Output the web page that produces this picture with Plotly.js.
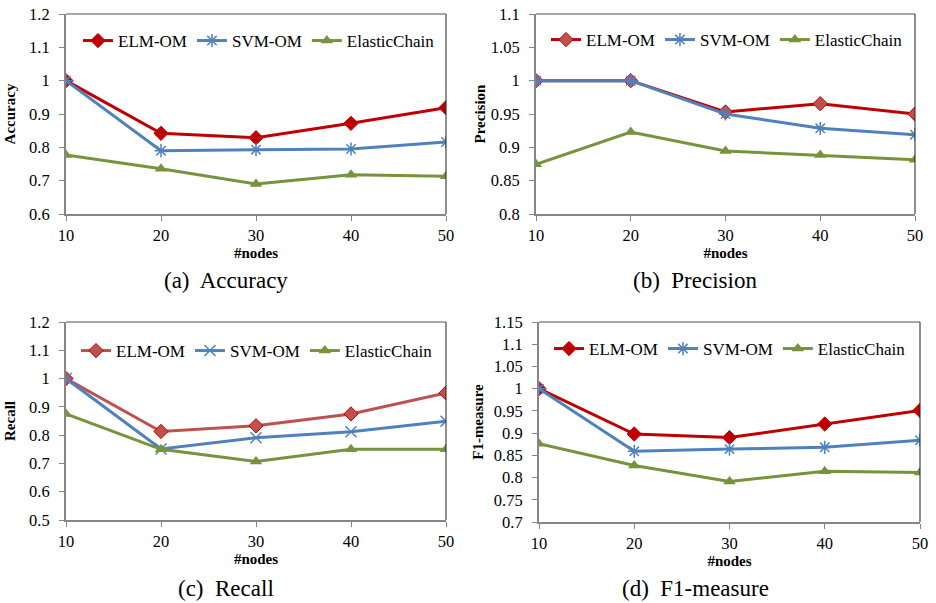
<!DOCTYPE html>
<html>
<head>
<meta charset="utf-8">
<script src="https://cdn.plot.ly/plotly-3.0.1.min.js"></script>
<style>
html,body{margin:0;padding:0;background:#fff;}
#chart{width:936px;height:603px;}
</style>
</head>
<body>
<div id="chart"></div>
<script>
// ---- data ----
const nodes = [10, 20, 30, 40, 50];
const seriesNames = ["ELM-OM", "SVM-OM", "ElasticChain"];

const accuracyELM = [1.0, 0.842, 0.829, 0.872, 0.919];
const accuracySVM = [1.0, 0.790, 0.793, 0.795, 0.816];
const accuracyEC  = [0.777, 0.736, 0.690, 0.718, 0.713];

const precisionELM = [1.0, 1.0, 0.953, 0.9655, 0.950];
const precisionSVM = [1.0, 1.0, 0.950, 0.9285, 0.919];
const precisionEC  = [0.8745, 0.923, 0.8945, 0.8885, 0.8815];

const recallELM = [1.0, 0.813, 0.833, 0.875, 0.949];
const recallSVM = [1.0, 0.751, 0.791, 0.812, 0.849];
const recallEC  = [0.875, 0.750, 0.707, 0.750, 0.750];

const f1ELM = [1.0, 0.898, 0.890, 0.9205, 0.951];
const f1SVM = [1.0, 0.859, 0.864, 0.868, 0.884];
const f1EC  = [0.876, 0.827, 0.791, 0.814, 0.8115];

const panelTitles = ["Accuracy", "Precision", "Recall", "F1-measure"];
const captions = ["(a)\u00a0 Accuracy", "(b)\u00a0 Precision", "(c)\u00a0 Recall", "(d)\u00a0 F1-measure"];
const xTitle = "#nodes";

// ---- styles ----
const serif = "Liberation Serif";
const blue = "#4F81BD", green = "#77933C", darkRed = "#C00000", lightRed = "#C0504D";

const panels = [
  {ys: [accuracyELM, accuracySVM, accuracyEC], range: [0.6, 1.2], dtick: 0.1,
   elmLine: darkRed, elmFill: darkRed, svmSym: "asterisk-open", yStand: 10,
   dx: [66/936, 446/936], dy: [1-214/603, 1-14/603], leg: [78/936, 1-41/603]},
  {ys: [precisionELM, precisionSVM, precisionEC], range: [0.8, 1.1], dtick: 0.05,
   elmLine: darkRed, elmFill: lightRed, svmSym: "asterisk-open", yStand: 2,
   dx: [536/936, 915/936], dy: [1-214/603, 1-14/603], leg: [546/936, 1-40/603]},
  {ys: [recallELM, recallSVM, recallEC], range: [0.5, 1.2], dtick: 0.1,
   elmLine: lightRed, elmFill: lightRed, svmSym: "x-thin-open", yStand: 10,
   dx: [66/936, 446/936], dy: [1-520/603, 1-322/603], leg: [76/936, 1-351/603]},
  {ys: [f1ELM, f1SVM, f1EC], range: [0.7, 1.15], dtick: 0.05,
   elmLine: darkRed, elmFill: darkRed, svmSym: "asterisk-open", yStand: 7,
   dx: [539/936, 920/936], dy: [1-522/603, 1-322/603], leg: [549/936, 1-349/603]}
];

const traces = [];
const layout = {
  width: 936, height: 603,
  margin: {l: 0, r: 0, t: 0, b: 0},
  paper_bgcolor: "#fff", plot_bgcolor: "#fff",
  font: {family: serif, color: "#000", size: 16},
  shapes: [], annotations: []
};

panels.forEach((p, i) => {
  const n = i + 1;
  const xa = n === 1 ? "x" : "x" + n;
  const ya = n === 1 ? "y" : "y" + n;
  const lg = n === 1 ? "legend" : "legend" + n;
  const common = {x: nodes, xaxis: xa, yaxis: ya, mode: "lines+markers", legend: lg, showlegend: true};
  traces.push(Object.assign({}, common, {
    y: p.ys[0], name: seriesNames[0],
    line: {color: p.elmLine, width: 3},
    marker: {symbol: "diamond", size: 11, color: p.elmFill, line: {color: darkRed, width: 1}}
  }));
  traces.push(Object.assign({}, common, {
    y: p.ys[1], name: seriesNames[1],
    line: {color: blue, width: 3},
    marker: {symbol: p.svmSym, size: 11, color: blue, line: {color: blue, width: 1.5}}
  }));
  traces.push(Object.assign({}, common, {
    y: p.ys[2], name: seriesNames[2],
    line: {color: green, width: 3},
    marker: {symbol: "triangle-up", size: 11, color: green}
  }));

  const xKey = n === 1 ? "xaxis" : "xaxis" + n;
  const yKey = n === 1 ? "yaxis" : "yaxis" + n;
  layout[xKey] = {
    domain: p.dx, anchor: ya, range: [10, 50], tickvals: nodes,
    showgrid: false, zeroline: false, showline: true, linecolor: "#868686", linewidth: 2,
    ticks: "outside", ticklen: 5, tickcolor: "#868686", tickwidth: 1,
    tickfont: {family: serif, size: 16.5, color: "#000"},
    title: {text: "<b>" + xTitle + "</b>", font: {family: serif, size: 15, color: "#000"}, standoff: 0},
    fixedrange: true
  };
  layout[yKey] = {
    domain: p.dy, anchor: xa, range: p.range, dtick: p.dtick, tick0: p.range[0],
    showgrid: false, zeroline: false, showline: true, linecolor: "#868686", linewidth: 2,
    ticks: "outside", ticklen: 5, tickcolor: "#868686", tickwidth: 1, ticklabelstandoff: 6,
    tickfont: {family: serif, size: 16.5, color: "#000"},
    title: {text: "<b>" + panelTitles[i] + "</b>", font: {family: serif, size: 15, color: "#000"}, standoff: p.yStand},
    fixedrange: true
  };
  layout[lg] = {
    orientation: "h", x: p.leg[0], y: p.leg[1], xanchor: "left", yanchor: "middle",
    xref: "paper", yref: "paper",
    bgcolor: "rgba(0,0,0,0)", font: {family: serif, size: 17, color: "#000"},
    itemwidth: 30, tracegroupgap: 0
  };
  layout.shapes.push({type: "line", xref: xa + " domain", yref: ya + " domain", x0: 0, x1: 1, y0: 1, y1: 1,
    line: {color: "#505050", width: 1}});
  layout.shapes.push({type: "line", xref: xa + " domain", yref: ya + " domain", x0: 1, x1: 1, y0: 0, y1: 1,
    line: {color: "#202020", width: 1}});
});

const capPos = [[226, 280], [695, 280], [226, 588], [695, 588]];
captions.forEach((c, i) => {
  layout.annotations.push({
    text: c, xref: "paper", yref: "paper", x: capPos[i][0] / 936, y: 1 - capPos[i][1] / 603,
    xanchor: "center", yanchor: "middle", showarrow: false,
    font: {family: serif, size: 23, color: "#000"}
  });
});

Plotly.newPlot("chart", traces, layout, {displayModeBar: false, staticPlot: true});
</script>
</body>
</html>
